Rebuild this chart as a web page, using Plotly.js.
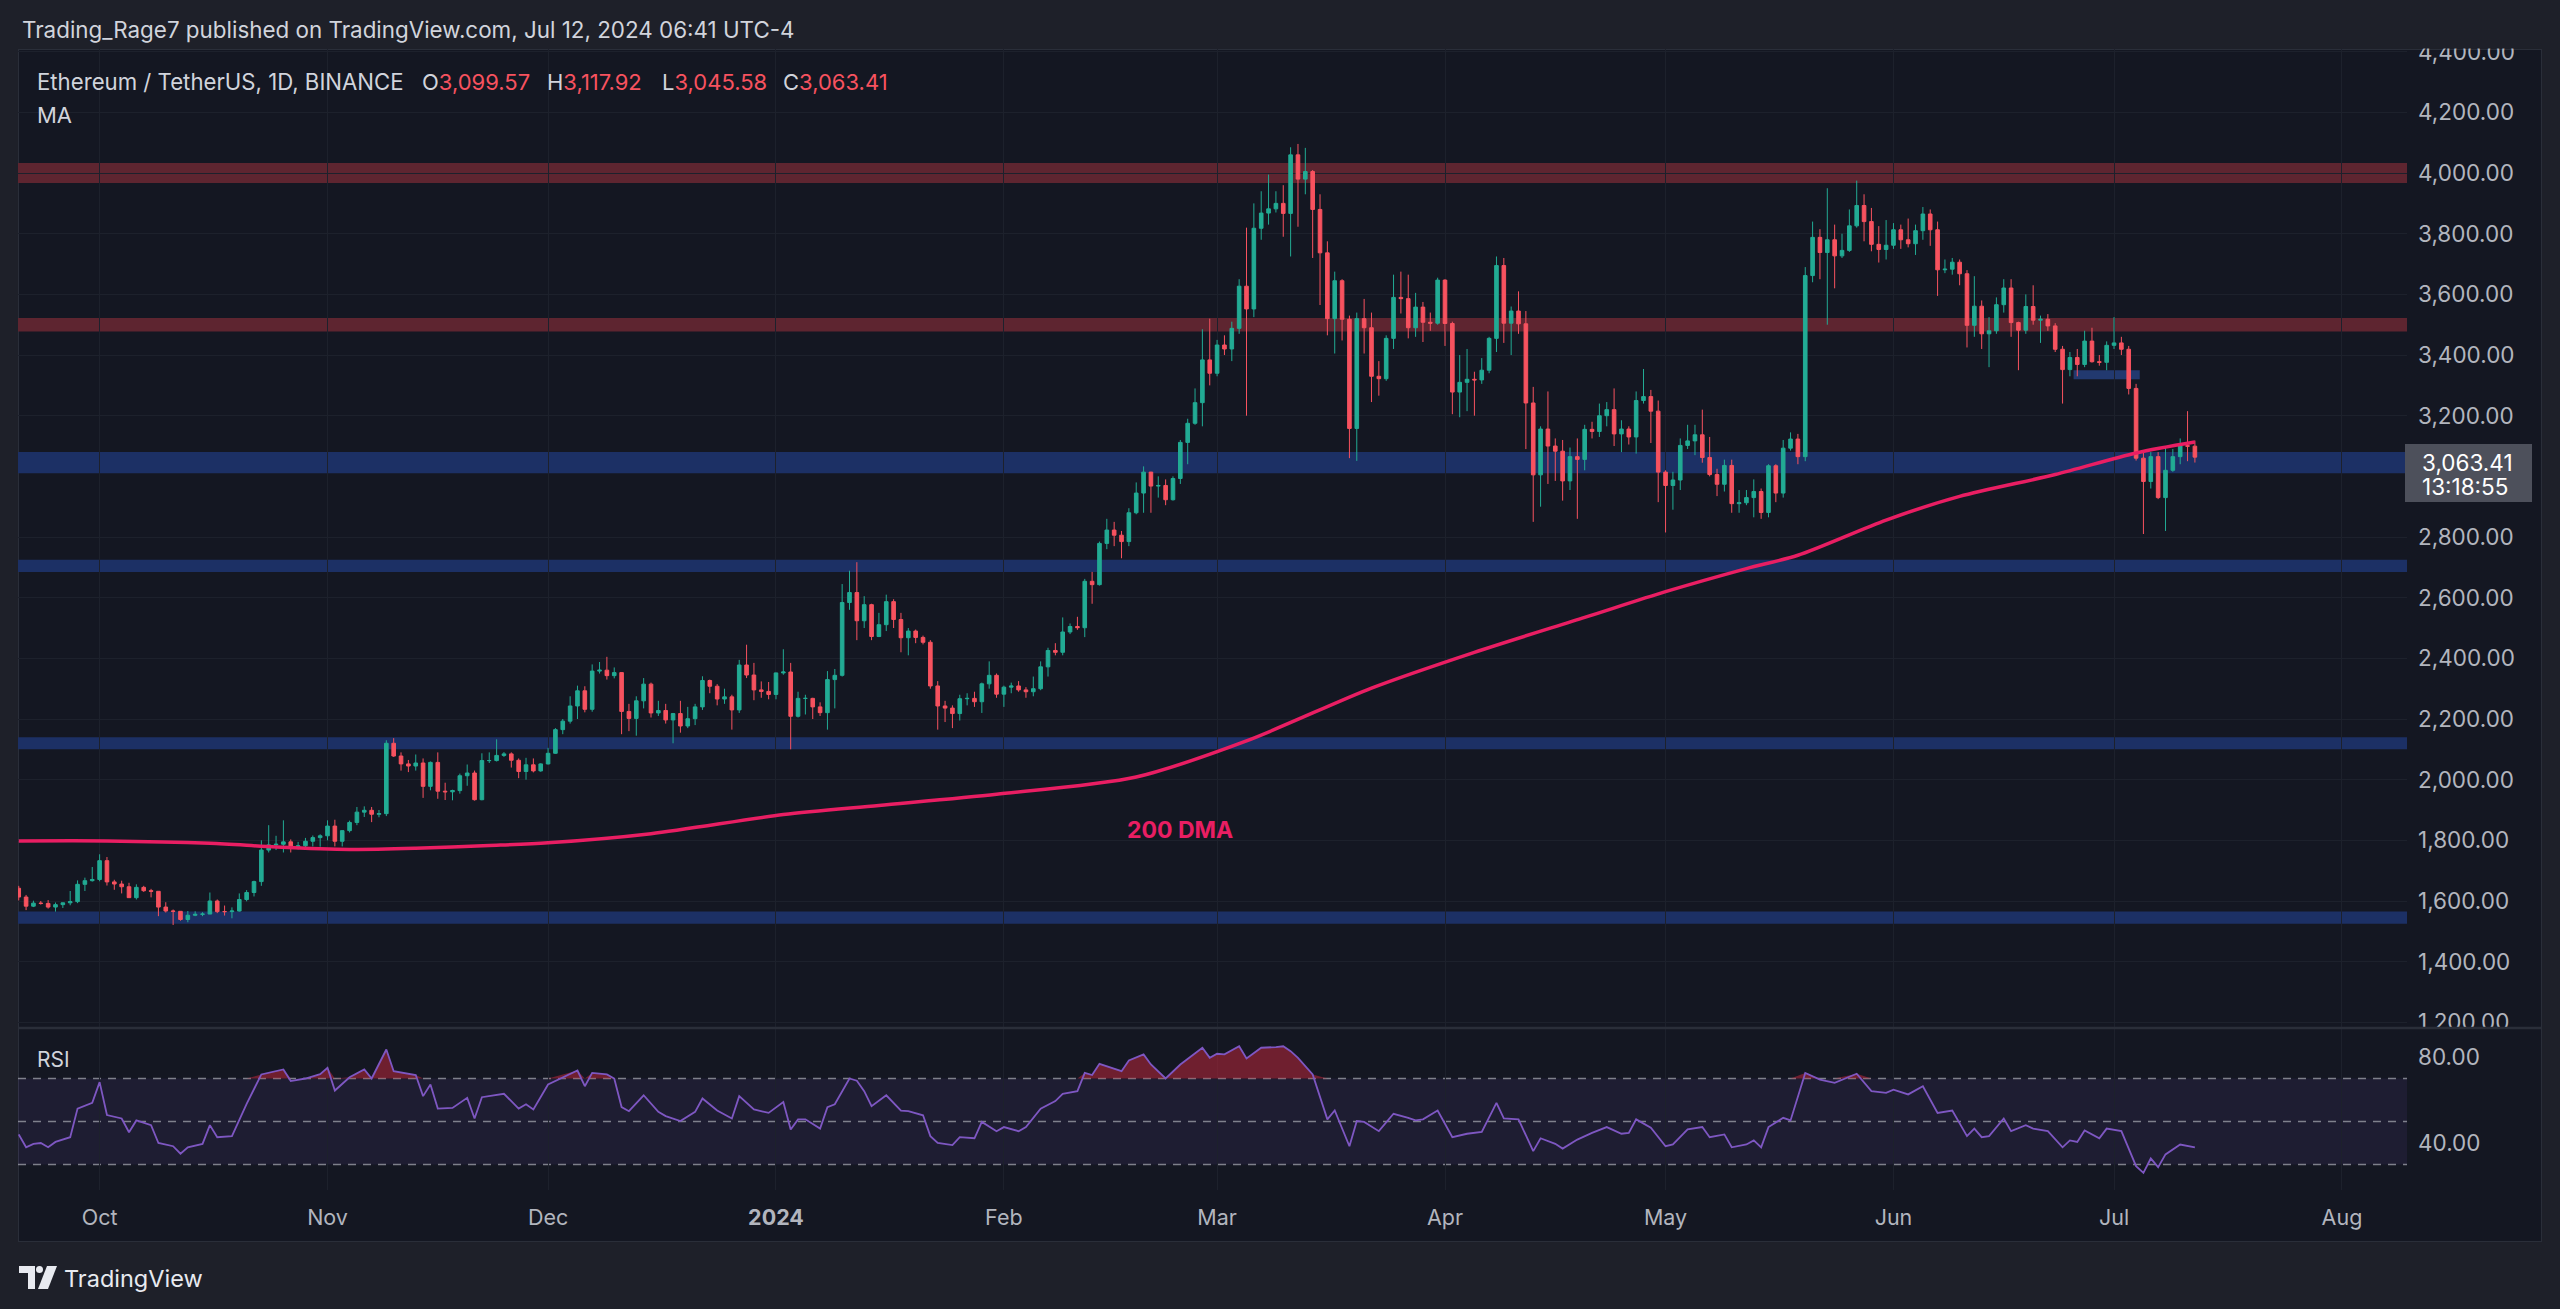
<!DOCTYPE html>
<html><head><meta charset="utf-8">
<script src="https://cdn.plot.ly/plotly-3.0.1.min.js"></script>
<style>
html,body{margin:0;padding:0;background:#1e2029;width:2560px;height:1309px;overflow:hidden;}
#frame{position:absolute;left:18px;top:49px;width:2522px;height:1191px;background:#141722;border:1px solid #2a2e39;}
#chart{position:absolute;left:0;top:0;width:2560px;height:1309px;}
</style></head><body>
<div id="frame"></div><div id="chart"></div>
<script>
// ---------------- DATA ----------------
const startDate = '2023-09-20';   // first daily candle
const openP = [
 1642,1613,1583,1593,1592,1580,1588,1594,1598,1655,1667,
 1671,1733,1663,1656,1647,1611,1645,1634,1632,1580,1567,1566,1539,1553,1556,1557,1600,1565,1565,1567,1605,1628,1664,1768,1785,1787,1795,1778,1782,1797,1809,
 1815,1847,1797,1832,1859,1893,1899,1886,1888,2120,2078,2052,2045,2055,1978,2057,1962,1960,1964,2013,2022,1934,2063,2063,2080,2085,2064,2027,2049,2029,
 2052,2087,2165,2193,2243,2293,2232,2358,2361,2343,2353,2225,2202,2260,2315,2220,2228,2197,2218,2177,2201,2240,2327,2308,2266,2273,2230,2378,2345,2296,2291,
 2281,2352,2355,2209,2268,2268,2240,2221,2330,2344,2584,2617,2524,2577,2472,2511,2587,2528,2468,2490,2469,2453,2309,2243,2236,2218,2267,2268,2257,2316,2344,
 2282,2305,2309,2296,2290,2300,2372,2426,2420,2487,2505,2501,2654,2643,2779,2823,2806,2785,2880,2945,3014,2968,2970,2923,2993,3112,3175,3243,3384,
 3340,3433,3420,3488,3627,3552,3818,3868,3882,3900,3867,4060,3980,4005,3880,3737,3520,3645,3518,3158,3520,3490,3330,3322,3455,3590,3586,3490,3558,3508,3505,
 3647,3504,3278,3310,3320,3318,3350,3455,3695,3505,3545,3503,3242,3005,3156,3100,3083,2985,3065,3056,3155,3148,3200,3220,3140,3156,3130,3250,3263,3215,
 3014,2970,2988,3102,3117,3137,3062,3006,2974,3036,2910,2913,2930,2950,2881,3035,2945,3093,3123,3065,3662,3788,3738,3780,3727,3745,3826,3893,3840,3765,3748,
 3762,3813,3780,3767,3810,3865,3813,3681,3683,3706,3668,3498,3561,3470,3480,3566,3621,3507,3482,3560,3515,3518,3496,3419,3352,3392,3369,3446,3378,3376,
 3432,3440,3419,3290,3060,2983,3065,2930,3020,3065,3101,3099.57];
const highP = [
 1650,1620,1601,1600,1603,1595,1595,1633,1668,1677,1712,
 1754,1745,1670,1667,1660,1655,1650,1640,1632,1596,1572,1567,1567,1566,1563,1628,1605,1585,1579,1625,1636,1667,1800,1850,1815,1866,1803,1795,1808,1816,1820,
 1866,1868,1830,1865,1910,1912,1910,1900,2130,2137,2090,2065,2083,2070,2060,2090,1990,1967,2020,2050,2030,2087,2090,2133,2091,2090,2070,2072,2070,2054,
 2105,2170,2200,2275,2310,2308,2380,2388,2405,2370,2354,2250,2275,2335,2320,2260,2250,2220,2260,2240,2250,2341,2330,2315,2300,2280,2395,2445,2385,2324,2322,
 2353,2430,2385,2290,2280,2270,2255,2358,2365,2645,2689,2717,2605,2580,2550,2610,2595,2550,2500,2495,2475,2460,2325,2260,2245,2280,2285,2290,2320,2390,2350,
 2310,2320,2325,2305,2340,2390,2435,2450,2535,2515,2537,2662,2685,2785,2860,2850,2820,2895,2980,3033,3015,3000,2990,3000,3120,3190,3290,3485,3520,
 3450,3465,3510,3650,3820,3900,3940,3995,3940,3960,4085,4096,4083,4010,3930,3775,3675,3650,3530,3540,3585,3540,3380,3465,3665,3675,3665,3605,3575,3540,3655,
 3650,3510,3400,3420,3345,3390,3460,3725,3720,3560,3610,3545,3295,3165,3280,3125,3120,3095,3125,3170,3180,3240,3245,3290,3185,3165,3280,3354,3285,3250,
 3020,3015,3125,3170,3170,3220,3130,3025,3055,3055,2955,2955,2990,2960,3040,3040,3120,3145,3140,3690,3840,3815,3950,3830,3800,3880,3975,3930,3885,3825,3845,
 3835,3830,3850,3830,3888,3880,3840,3715,3720,3715,3680,3660,3580,3525,3590,3650,3650,3510,3600,3630,3530,3535,3505,3430,3410,3420,3480,3490,3400,3445,
 3525,3460,3430,3305,3085,3080,3080,3100,3090,3125,3215,3117.92];
const lowP = [
 1602,1570,1580,1588,1575,1565,1577,1586,1593,1633,1664,
 1665,1651,1637,1625,1610,1605,1630,1612,1550,1562,1521,1535,1530,1550,1550,1557,1560,1552,1543,1565,1599,1615,1650,1760,1768,1760,1760,1770,1770,1780,1779,
 1800,1780,1780,1826,1850,1877,1860,1876,1880,2075,2030,2025,2030,1940,1965,1937,1933,1932,1954,1980,1931,1932,2055,2060,2075,2040,2005,2000,2024,2026,
 2050,2085,2150,2185,2200,2222,2224,2350,2330,2334,2150,2160,2145,2235,2205,2210,2185,2120,2155,2170,2180,2230,2285,2245,2250,2165,2220,2335,2262,2270,2265,
 2265,2346,2100,2205,2215,2200,2210,2165,2235,2340,2560,2460,2500,2460,2470,2490,2500,2420,2410,2450,2446,2300,2165,2190,2170,2195,2245,2240,2220,2300,2270,
 2240,2285,2290,2270,2275,2295,2340,2410,2410,2480,2494,2470,2580,2640,2760,2770,2730,2770,2875,2880,2880,2930,2905,2920,2975,3040,3170,3165,3300,
 3330,3400,3380,3470,3200,3525,3780,3830,3870,3790,3725,3823,3930,3720,3565,3465,3405,3448,3060,3051,3405,3245,3266,3315,3420,3537,3455,3460,3443,3480,3500,
 3430,3205,3195,3215,3200,3305,3340,3410,3440,3400,3470,3090,2850,2900,2975,2985,2920,2955,2860,3020,3125,3130,3165,3100,3080,3105,3075,3240,3110,2915,
 2815,2890,2955,3090,3070,3045,3000,2935,2950,2880,2880,2905,2865,2860,2865,2915,2930,3085,3040,3050,3640,3650,3500,3620,3720,3740,3820,3775,3742,3705,3715,
 3750,3750,3755,3730,3780,3760,3595,3670,3665,3630,3425,3460,3420,3360,3470,3540,3460,3350,3470,3500,3440,3480,3410,3240,3330,3330,3360,3375,3365,3350,
 3420,3400,3270,3052,2810,2960,2925,2820,3015,3040,3050,3045.58];
const closeP = [
 1613,1583,1593,1592,1580,1588,1594,1598,1655,1667,1671,
 1733,1663,1656,1647,1611,1645,1634,1632,1580,1567,1566,1539,1553,1556,1557,1600,1565,1565,1567,1605,1628,1664,1768,1785,1787,1795,1778,1782,1797,1809,1815,
 1847,1797,1832,1859,1893,1899,1886,1888,2120,2078,2052,2045,2055,1978,2057,1962,1960,1964,2013,2022,1934,2063,2063,2080,2085,2064,2027,2049,2029,2052,
 2087,2165,2193,2243,2293,2232,2358,2361,2343,2353,2225,2202,2260,2315,2220,2228,2197,2218,2177,2201,2240,2327,2308,2266,2273,2230,2378,2345,2296,2291,2281,
 2352,2355,2209,2268,2268,2240,2221,2330,2344,2584,2617,2524,2577,2472,2511,2587,2528,2468,2490,2469,2453,2309,2243,2236,2218,2267,2268,2257,2316,2344,2282,
 2305,2309,2296,2290,2300,2372,2426,2420,2487,2505,2501,2654,2643,2779,2823,2806,2785,2880,2945,3014,2968,2970,2923,2993,3112,3175,3243,3384,3340,
 3433,3420,3488,3627,3552,3818,3868,3882,3900,3867,4060,3980,4005,3880,3737,3520,3645,3518,3158,3520,3490,3330,3322,3455,3590,3586,3490,3558,3508,3505,3647,
 3504,3278,3310,3320,3318,3350,3455,3695,3505,3545,3503,3242,3005,3156,3100,3083,2985,3065,3056,3155,3148,3200,3220,3140,3156,3130,3250,3263,3215,3014,
 2970,2988,3102,3117,3137,3062,3006,2974,3036,2910,2913,2930,2950,2881,3035,2945,3093,3123,3065,3662,3788,3738,3780,3727,3745,3826,3893,3840,3765,3748,3762,
 3813,3780,3767,3810,3865,3813,3681,3683,3706,3668,3498,3561,3470,3480,3566,3621,3507,3482,3560,3515,3518,3496,3419,3352,3392,3369,3446,3378,3376,3432,
 3440,3419,3290,3060,2983,3065,2930,3020,3065,3101,3099.57,3063.41];

// 200-day moving average
const maDates = ['2023-09-20','2023-10-02','2023-10-16','2023-10-25','2023-11-04','2023-11-13','2023-11-23','2023-12-01','2023-12-15',
 '2024-01-02','2024-01-15','2024-01-31','2024-02-19','2024-03-05','2024-03-22','2024-04-05','2024-04-20','2024-05-01','2024-05-12',
 '2024-05-19','2024-05-31','2024-06-10','2024-06-23','2024-07-04','2024-07-12'];
const maVals = [1798,1798,1790,1778,1770,1774,1783,1792,1822,1885,1915,1952,2009,2128,2302,2420,2535,2620,2696,2740,2856,2934,3006,3077,3113];

// RSI (day offset from startDate, value)
const rsiDays = [0,1,2,3,4,5,7,8,10,11,12,14,15,16,18,19,21,22,23,25,26,27,29,31,33,36,37,39,41,42,43,45,47,48,50,51,54,55,56,57,59,61,62,63,66,68,69,70,72,
 76,77,78,80,81,82,83,85,87,88,90,92,93,95,97,98,100,102,104,105,106,107,109,110,111,113,114,115,116,118,120,121,123,124,125,127,128,130,131,133,134,136,137,
 139,141,142,144,145,146,147,150,151,153,154,156,158,161,162,163,164,166,167,169,171,172,173,174,176,178,179,181,182,183,185,187,189,190,191,193,195,197,199,
 201,202,204,206,207,209,210,212,214,216,218,219,220,222,224,225,227,229,230,232,233,235,236,237,238,240,241,243,245,247,250,252,254,255,257,259,261,263,265,
 266,267,268,270,271,273,274,276,278,279,280,281,283,284,286,288,289,290,291,292,294,296];
const rsiVals = [44,38,39.6,40,38,40.5,42.7,56,58.7,68.3,53,51.4,45,50.5,48.3,40,38.5,35,38,39.6,48.3,42.7,43.2,58.2,71.9,74.2,68.8,70,72,75,64.4,70.6,74.2,70,83.5,
 73.4,71.6,61.8,67.2,56,56.3,61,51.4,61.3,62.9,56,58,55.6,67.2,73.7,66.4,72.6,71.9,70,56.7,54.8,62.2,54.5,52.5,50.2,54.5,60.7,55.1,51.4,61.8,55.6,54,59.1,46.3,
 51,51,46.7,56.7,58,70,69,64.1,57.1,62.2,55.1,54.8,52.9,43.2,40,39,42.7,42.2,49.8,45.5,47.4,45.5,47.4,56,59.5,62.9,64.1,72.6,71.6,76.8,73.4,78.4,81.2,76.5,70,
 76.5,84.3,79.6,81.5,81.2,85,79.3,84.3,84.6,85,82.7,79.6,71.9,51,55.1,38.5,50.2,49.8,45.5,53.6,51.7,50.5,51,55.1,42.7,44.3,45.2,58.7,51.4,51,36.2,42.2,39.6,
 37.4,41.6,44.7,47.4,44.3,44.7,51,47.1,38.5,39.3,46.3,47.4,42.7,44,38,39.3,41.2,38,47.4,51.7,50.5,72.6,69.5,68,72.2,64.1,63.3,64.8,62.6,66.4,54,55.1,43.2,46.7,
 42.7,43.2,51.4,45.5,48.3,46.7,45.5,38,41.2,40.5,45.8,42.2,46.7,45.5,29.2,26.1,32.8,28.8,34.7,39.3,38];

// horizontal zones (price levels)
const zoneLow  = [3967,3478,3010,2685,2100,1525];
const zoneHigh = [4033,3522,3080,2725,2140,1565];
const zoneKind = ['resistance','resistance','support','support','support','support'];
const miniZoneDates = ['2024-06-25 12:00','2024-07-04 12:00'];
const miniZonePrice = [3320,3350];

// price-axis labels visible in the reference (3,000.00 is hidden behind the last-price box)
const priceTicks = [1200,1400,1600,1800,2000,2200,2400,2600,2800,3200,3400,3600,3800,4000,4200,4400];
const rsiTicks = [40,80];
const monthTicks = ['2023-10-01','2023-11-01','2023-12-01','2024-01-01','2024-02-01','2024-03-01','2024-04-01','2024-05-01','2024-06-01','2024-07-01','2024-08-01'];
const monthLabels = ['Oct','Nov','Dec','<b>2024</b>','Feb','Mar','Apr','May','Jun','Jul','Aug'];
const lastPrice = '3,063.41', countdown = '13:18:55';
const legendOHLC = [['O','3,099.57'],['H','3,117.92'],['L','3,045.58'],['C','3,063.41']];

// ---------------- BUILD ----------------
const DAY = 86400000, base = Date.parse(startDate+'T00:00:00Z');
const dayStr = d => new Date(base + d*DAY).toISOString().slice(0,10);
const candleDates = openP.map((_,i)=>dayStr(i));
const rsiDates = rsiDays.map(dayStr);

const L=18, R=2407, T=49, B=1190;
const px = p => (p-L)/(R-L);
const py = p => (B-p)/(B-T);

const UP='#22ab94', DN='#f7525f', PINK='#e91e63', GRID='#1d212c';
const FONT='Inter, Roboto, sans-serif';

const traces = [
 {type:'candlestick', x:candleDates, open:openP, high:highP, low:lowP, close:closeP, xaxis:'x', yaxis:'y',
  increasing:{line:{color:UP,width:1}, fillcolor:UP}, decreasing:{line:{color:DN,width:1}, fillcolor:DN},
  whiskerwidth:0, hoverinfo:'skip'},
 {type:'scatter', mode:'lines', x:maDates, y:maVals, xaxis:'x', yaxis:'y',
  line:{color:PINK, width:3.5, shape:'spline', smoothing:0.8}, hoverinfo:'skip'},
 {type:'scatter', mode:'lines', x:rsiDates, y:rsiDates.map(()=>70), xaxis:'x', yaxis:'y2', line:{width:0, color:'rgba(0,0,0,0)'}, hoverinfo:'skip'},
 {type:'scatter', mode:'lines', x:rsiDates, y:rsiVals.map(v=>Math.max(v,70)), xaxis:'x', yaxis:'y2', fill:'tonexty',
  fillcolor:'rgba(185,38,58,0.55)', line:{width:0, color:'rgba(0,0,0,0)'}, hoverinfo:'skip'},
 {type:'scatter', mode:'lines', x:rsiDates, y:rsiVals, xaxis:'x', yaxis:'y2', line:{color:'#7e57c2', width:1.8}, hoverinfo:'skip'}
];

const shapes = [];
zoneLow.forEach((lo,i)=>{
  shapes.push({type:'rect', xref:'paper', x0:0, x1:1, yref:'y', y0:lo, y1:zoneHigh[i], line:{width:0},
    fillcolor: zoneKind[i]==='resistance' ? '#5e2530' : '#1c3065', layer:'below'});
});
shapes.push({type:'rect', xref:'x', x0:miniZoneDates[0], x1:miniZoneDates[1], yref:'y', y0:miniZonePrice[0], y1:miniZonePrice[1],
  line:{width:0}, fillcolor:'#22396f', layer:'below'});
// RSI band + levels
shapes.push({type:'rect', xref:'paper', x0:0, x1:1, yref:'y2', y0:30, y1:70, line:{width:0}, fillcolor:'rgba(126,87,194,0.10)', layer:'below'});
[70,50,30].forEach(v=>shapes.push({type:'line', xref:'paper', x0:0, x1:1, yref:'y2', y0:v, y1:v,
  line:{color:'rgba(160,163,172,0.75)', width:1.5, dash:'8px,7px'}, layer:'below'}));
// covers for clipped axis labels and pane separator
shapes.push({type:'rect', xref:'paper', yref:'paper', x0:px(2407), x1:px(2541), y0:py(0), y1:py(48.5), line:{width:0}, fillcolor:'#1e2029', layer:'above'});
shapes.push({type:'rect', xref:'paper', yref:'paper', x0:px(2408), x1:px(2540.5), y0:py(1027), y1:py(1040), line:{width:0}, fillcolor:'#141722', layer:'above'});
shapes.push({type:'line', xref:'paper', yref:'paper', x0:px(19), x1:px(2541), y0:py(1028), y1:py(1028), line:{color:'#2a2e39', width:2.5}, layer:'above'});
// price label box
shapes.push({type:'rect', xref:'paper', yref:'paper', x0:px(2405), x1:px(2532), y0:py(502), y1:py(444), line:{width:0}, fillcolor:'#4d505b', layer:'above'});
// TradingView logo glyph
shapes.push({type:'path', xref:'paper', yref:'paper', layer:'above', line:{width:0}, fillcolor:'#e8eaf0',
  path:`M ${px(19)} ${py(1266)} L ${px(35)} ${py(1266)} L ${px(35)} ${py(1289)} L ${px(28)} ${py(1289)} L ${px(28)} ${py(1273)} L ${px(19)} ${py(1273)} Z`});
shapes.push({type:'circle', xref:'paper', yref:'paper', layer:'above', line:{width:0}, fillcolor:'#e8eaf0',
  x0:px(36), x1:px(43), y0:py(1273), y1:py(1266)});
shapes.push({type:'path', xref:'paper', yref:'paper', layer:'above', line:{width:0}, fillcolor:'#e8eaf0',
  path:`M ${px(47)} ${py(1266)} L ${px(57)} ${py(1266)} L ${px(48)} ${py(1289)} L ${px(38)} ${py(1289)} Z`});

const txt = (text, x, y, size, color, extra={}) => Object.assign({text, xref:'paper', yref:'paper', x:px(x), y:py(y),
  xanchor:'left', yanchor:'middle', showarrow:false, font:{family:FONT, size, color}}, extra);
const red = v => `<span style="color:${DN}">${v}</span>`;
const legendX = [420, 545, 660, 781];
const annotations = [
 txt('Trading_Rage7 published on TradingView.com, Jul 12, 2024 06:41 UTC-4', 20, 30, 22.4, '#d1d4dc'),
 txt('Ethereum / TetherUS, 1D, BINANCE', 35, 82, 22.2, '#d1d4dc'),
 ...legendOHLC.map((p,i)=>txt(p[0]+red(p[1]), legendX[i], 82, 22, '#d1d4dc')),
 txt('MA', 35, 115, 22, '#d1d4dc'),
 txt('RSI', 35, 1059, 21, '#d1d4dc'),
 txt('<b>200 DMA</b>', 1180, 830, 23, PINK, {xanchor:'center'}),
 txt(lastPrice, 2420, 462, 22.5, '#ffffff'),
 txt(countdown, 2420, 486, 22.5, '#ffffff'),
 txt('TradingView', 62, 1278, 23.5, '#e8eaf0')
];

const axFont = {family:FONT, size:22.5, color:'#b2b5be'};
const layout = {
 width:2560, height:1309, margin:{l:L, r:2560-R, t:T, b:1309-B, pad:0},
 paper_bgcolor:'rgba(0,0,0,0)', plot_bgcolor:'rgba(0,0,0,0)',
 showlegend:false, hovermode:false, dragmode:false,
 xaxis:{type:'date', range:['2023-09-19 21:36','2024-08-09 20:24'], anchor:'y2',
   tickmode:'array', tickvals:monthTicks, ticktext:monthLabels, tickfont:{family:FONT,size:21.5,color:'#b2b5be'},
   showgrid:true, gridcolor:GRID, gridwidth:1, zeroline:false, showline:false, ticks:'', ticklabelstandoff:12,
   rangeslider:{visible:false}, fixedrange:true},
 yaxis:{domain:[py(1027),1], range:[1184.6,4409], side:'right', tickmode:'array', tickvals:priceTicks,
   tickformat:',.2f', tickfont:axFont, showgrid:true, gridcolor:GRID, gridwidth:1, zeroline:false, showline:false,
   ticks:'', ticklabelstandoff:10, fixedrange:true},
 yaxis2:{domain:[0,py(1029)], range:[18.14,93.02], side:'right', tickmode:'array', tickvals:rsiTicks, tickformat:'.2f',
   tickfont:axFont, showgrid:false, zeroline:false, showline:false, ticks:'', ticklabelstandoff:10, fixedrange:true},
 shapes, annotations
};
Plotly.newPlot('chart', traces, layout, {staticPlot:true, displayModeBar:false});
</script></body></html>
